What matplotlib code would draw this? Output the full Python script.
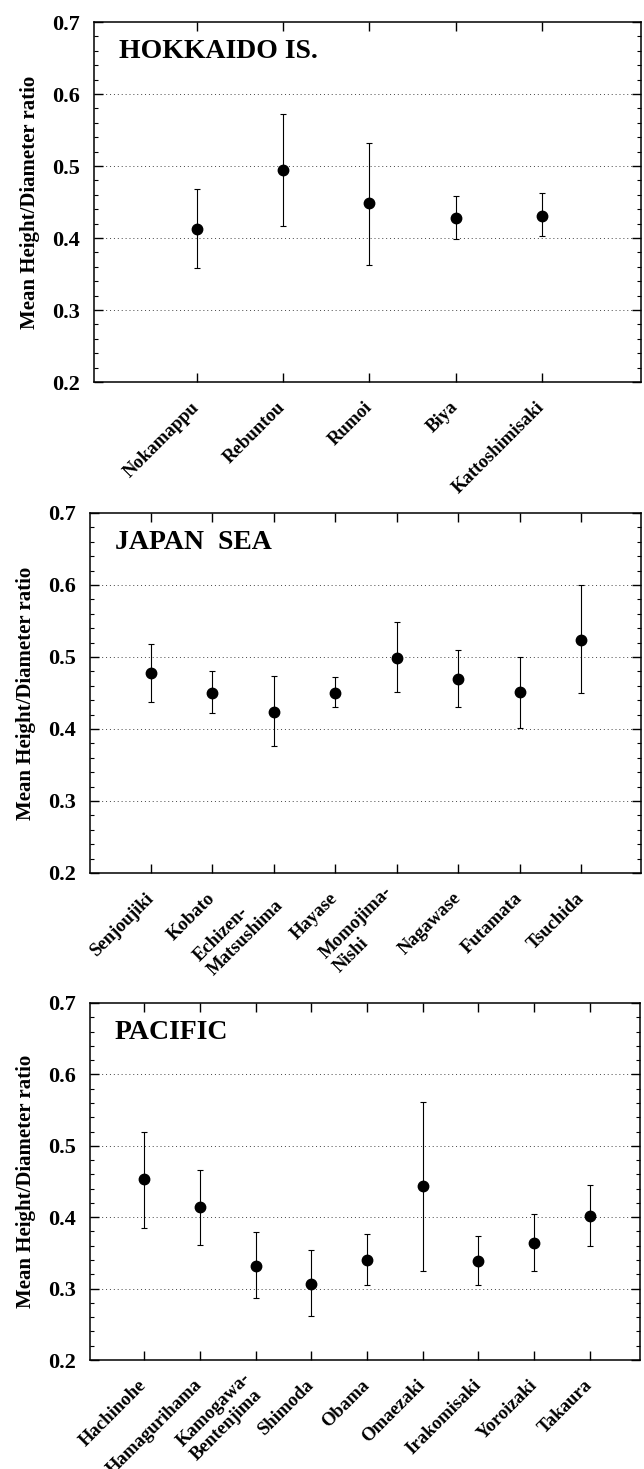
import matplotlib
matplotlib.use("Agg")
import matplotlib.pyplot as plt
from matplotlib.ticker import MultipleLocator
import numpy as np

plt.rcParams['font.family'] = ['Liberation Serif', 'DejaVu Serif']
plt.rcParams['font.weight'] = 'bold'

# ---- data ----
hok_sites = ["Nokamappu", "Rebuntou", "Rumoi", "Biya", "Kattoshimisaki"]
hok_mean = [0.413, 0.494, 0.449, 0.428, 0.431]
hok_low = [0.358, 0.416, 0.362, 0.398, 0.403]
hok_high = [0.468, 0.572, 0.532, 0.458, 0.462]

jap_sites = ["Senjoujiki", "Kobato", "Echizen-\nMatsushima", "Hayase",
             "Momojima-\nNishi", "Nagawase", "Futamata", "Tsuchida"]
jap_mean = [0.478, 0.450, 0.424, 0.450, 0.499, 0.469, 0.451, 0.524]
jap_low = [0.438, 0.422, 0.376, 0.430, 0.451, 0.430, 0.402, 0.450]
jap_high = [0.518, 0.480, 0.474, 0.472, 0.548, 0.510, 0.500, 0.600]

pac_sites = ["Hachinohe", "Hamagurihama", "Kamogawa-\nBentenjima", "Shimoda",
             "Obama", "Omaezaki", "Irakomisaki", "Yoroizaki", "Takaura"]
pac_mean = [0.453, 0.414, 0.332, 0.307, 0.340, 0.443, 0.338, 0.364, 0.401]
pac_low = [0.385, 0.361, 0.287, 0.261, 0.305, 0.325, 0.305, 0.325, 0.360]
pac_high = [0.520, 0.466, 0.379, 0.354, 0.377, 0.562, 0.373, 0.404, 0.445]

titles = ["HOKKAIDO IS.", "JAPAN  SEA", "PACIFIC"]
ylabel = "Mean Height/Diameter ratio"

W, H = 644, 1469
fig = plt.figure(figsize=(W / 100, H / 100), dpi=100)

# axes rectangles in pixels: left, top, right, bottom
rects = [(94, 22, 641, 382), (90, 513, 641, 873), (90, 1003, 640, 1360)]
xlims = [(-0.19, 6.15), (0.01, 8.97), (0.03, 9.9)]
panels = [(hok_sites, hok_mean, hok_low, hok_high),
          (jap_sites, jap_mean, jap_low, jap_high),
          (pac_sites, pac_mean, pac_low, pac_high)]

for (l, t, r, b), xl, (sites, mean, low, high), title in zip(rects, xlims, panels, titles):
    ax = fig.add_axes([l / W, 1 - b / H, (r - l) / W, (b - t) / H])
    x = np.arange(1, len(sites) + 1)
    mean = np.array(mean)
    yerr = [mean - np.array(low), np.array(high) - mean]
    ax.errorbar(x, mean, yerr=yerr, fmt='o', color='black', ms=7.5,
                elinewidth=0.8, capsize=2.2, capthick=0.8, zorder=3)
    ax.set_xlim(*xl)
    ax.set_ylim(0.2, 0.7)
    ax.yaxis.set_major_locator(MultipleLocator(0.1))
    ax.yaxis.set_minor_locator(MultipleLocator(0.02))
    ax.set_yticks([0.2, 0.3, 0.4, 0.5, 0.6, 0.7])
    ax.set_yticklabels(["0.2", "0.3", "0.4", "0.5", "0.6", "0.7"],
                       fontsize=16, fontweight='bold')
    ax.set_xticks(x)
    ax.set_xticklabels(sites, rotation=45, ha='right', va='center',
                       rotation_mode='anchor', fontsize=13.5, fontweight='bold',
                       multialignment='left')
    for lab in ax.get_xticklabels():
        lab.set_y(-0.032)
    ax.tick_params(axis='x', which='major', direction='in', length=6.5, width=1.0,
                   top=True, bottom=True, pad=8)
    ax.tick_params(axis='y', which='major', direction='in', length=6.5, width=1.0,
                   left=True, right=True, pad=10)
    ax.tick_params(axis='y', which='minor', direction='in', length=3, width=0.8,
                   left=True, right=True)
    for sp in ax.spines.values():
        sp.set_linewidth(1.1)
    for gy in [0.3, 0.4, 0.5, 0.6]:
        ax.axhline(gy, color='#444444', lw=0.7, ls=(0, (1, 3)), zorder=1)
    ax.set_ylabel(ylabel, fontsize=15, fontweight='bold', labelpad=9)
    ax.text(0.045, 0.917, title, transform=ax.transAxes, fontsize=20,
            fontweight='bold', ha='left', va='center')

fig.savefig("out.png", dpi=100)
